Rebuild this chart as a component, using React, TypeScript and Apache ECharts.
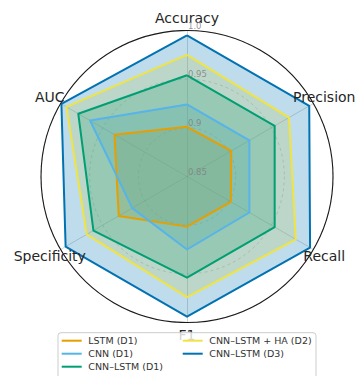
import React, { useEffect, useRef } from "react";
import * as echarts from "echarts";

// Metric order around the radar, clockwise from the top
const metrics = ["Accuracy", "Precision", "Recall", "F1", "Specificity", "AUC"];

// Scores per model, in the same order as `metrics`
const lstmD1 = [0.901, 0.9025, 0.902, 0.9015, 0.931, 0.936];
const cnnD1 = [0.924, 0.924, 0.924, 0.925, 0.915, 0.965];
const cnnLstmD1 = [0.954, 0.954, 0.954, 0.954, 0.961, 0.979];
const cnnLstmHaD2 = [0.975, 0.971, 0.979, 0.974, 0.969, 0.993];
const cnnLstmD3 = [0.995, 0.995, 0.996, 0.994, 0.994, 0.999];

const modelNames = [
  "LSTM (D1)",
  "CNN (D1)",
  "CNN–LSTM (D1)",
  "CNN–LSTM + HA (D2)",
  "CNN–LSTM (D3)",
];
const modelColors = ["#E69F00", "#56B4E9", "#009E73", "#F0E442", "#0072B2"];

// Radial scale
const rMin = 0.85;
const rMax = 1.0;
const rTicks = [0.85, 0.9, 0.95, 1.0];
const rTickLabels = ["0.85", "0.9", "0.95", "1.0"];

const FONT = "DejaVu Sans";
const CX = 187;
const CY = 176.5;
const R = 146;

// ECharts lays radar indicators out counter-clockwise; reorder so the
// metrics run clockwise like the metric list above.
const ccwOrder = [0, 5, 4, 3, 2, 1];
const reorder = (vals: number[]) => ccwOrder.map((i) => vals[i]);

export default function App() {
  const ref = useRef<HTMLDivElement>(null);

  useEffect(() => {
    if (!ref.current) return;
    const chart = echarts.init(ref.current, undefined, { renderer: "svg" });

    const allValues = [lstmD1, cnnD1, cnnLstmD1, cnnLstmHaD2, cnnLstmD3];

    // Translucent fills go underneath every outline
    const fillSeries = allValues.map((vals, i) => ({
      type: "radar" as const,
      id: `fill-${i}`,
      symbol: "none",
      z: 2,
      silent: true,
      lineStyle: { width: 0, opacity: 0 },
      itemStyle: { color: modelColors[i] },
      areaStyle: { color: modelColors[i], opacity: 0.25 },
      data: [{ value: reorder(vals) }],
    }));

    const lineSeries = allValues.map((vals, i) => ({
      type: "radar" as const,
      name: modelNames[i],
      symbol: "none",
      z: 3,
      lineStyle: { color: modelColors[i], width: 2 },
      itemStyle: { color: modelColors[i] },
      data: [{ name: modelNames[i], value: reorder(vals) }],
    }));

    // Metric names placed just outside the circle, centred on each spoke
    const nameR = 158.5;
    const nameTexts = metrics.map((m, i) => {
      const ang = Math.PI / 2 - (i * Math.PI * 2) / metrics.length;
      return {
        type: "text",
        z: m === "F1" ? 5 : 12,
        style: {
          text: m,
          x: CX + nameR * Math.cos(ang),
          y: CY - nameR * Math.sin(ang),
          align: "center",
          verticalAlign: "middle",
          font: `14px "${FONT}"`,
          fill: "#262626",
        },
      };
    });

    // Radial tick labels along the top spoke
    const tickTexts = rTicks.map((t, i) => ({
      type: "text",
      z: 12,
      style: {
        text: rTickLabels[i],
        x: CX + 1,
        y: CY - ((t - rMin) / (rMax - rMin)) * R - 5,
        align: "left",
        verticalAlign: "middle",
        font: `8.5px "${FONT}"`,
        fill: "rgba(128,128,128,0.85)",
      },
    }));

    const legendBase = {
      orient: "vertical",
      top: 334.2,
      padding: 0,
      itemGap: 0,
      itemWidth: 20,
      itemHeight: 2,
      icon: "rect",
      selectedMode: false,
      z: 20,
      textStyle: {
        fontFamily: FONT,
        fontSize: 9.5,
        color: "#333",
        lineHeight: 13,
        padding: [0, 0, 0, 1.6],
      },
    };

    chart.setOption({
      animation: false,
      backgroundColor: "#ffffff",
      radar: {
        center: [CX, CY],
        radius: R,
        startAngle: 90,
        shape: "circle",
        splitNumber: 3,
        indicator: ccwOrder.map((i) => ({ name: metrics[i], min: rMin, max: rMax })),
        axisName: { show: false },
        axisLine: { lineStyle: { color: "rgba(150,150,150,0.5)", width: 0.8 } },
        splitLine: {
          lineStyle: { color: "rgba(150,150,150,0.5)", width: 0.8, type: [3, 3] },
        },
        splitArea: { show: false },
        axisTick: { show: false },
        axisLabel: { show: false },
      },
      legend: [
        { ...legendBase, left: 61.7, data: modelNames.slice(0, 3) },
        { ...legendBase, left: 182.7, data: modelNames.slice(3) },
      ],
      graphic: [
        ...nameTexts,
        ...tickTexts,
        {
          type: "circle",
          z: 11,
          silent: true,
          shape: { cx: CX, cy: CY, r: R },
          style: { fill: "none", stroke: "#1a1a1a", lineWidth: 1.1 },
        },
        {
          type: "rect",
          z: 10,
          silent: true,
          shape: { x: 58, y: 332.7, width: 258, height: 60, r: 3 },
          style: { fill: "rgba(255,255,255,0.8)", stroke: "#cccccc", lineWidth: 1 },
        },
      ],
      series: [...fillSeries, ...lineSeries],
    });

    return () => chart.dispose();
  }, []);

  return (
    <div
      ref={ref}
      style={{ position: "fixed", left: 0, top: 0, width: 357, height: 376 }}
    />
  );
}
